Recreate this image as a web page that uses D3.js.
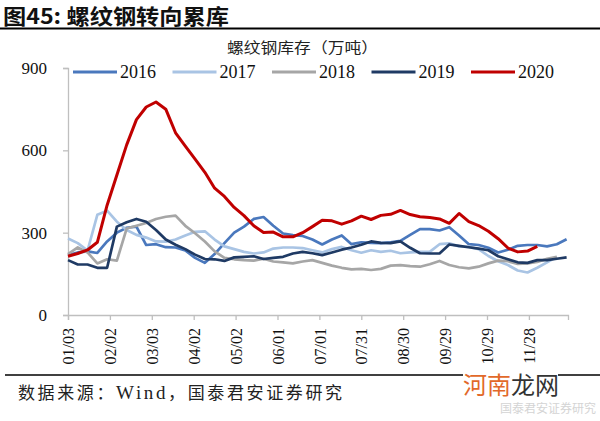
<!DOCTYPE html>
<html>
<head>
<meta charset="utf-8">
<script src="https://cdn.jsdelivr.net/npm/d3@7"></script>
<style>
  body { margin: 0; background: #fff; }
  svg { display: block; }
</style>
</head>
<body>
<div id="chart"></div>
<script>
// weekly inventory, 万吨, one point per week from 01/03
var years = ['2016', '2017', '2018', '2019', '2020'];
var colors = ['#4a78bd', '#a9c4e4', '#a6a6a6', '#1f3a64', '#c00000'];

var s2016 = [218, 228, 232, 226, 268, 300, 318, 322, 255, 258, 247, 246, 235, 208, 190, 222,
  262, 300, 322, 350, 357, 325, 297, 291, 288, 275, 257, 275, 290, 258, 265, 263,
  262, 265, 270, 292, 313, 313, 308, 320, 290, 258, 255, 245, 228, 238, 252, 255,
  255, 250, 258, 276];
var s2017 = [279, 262, 235, 365, 380, 340, 310, 292, 282, 268, 267, 275, 290, 303, 305, 275,
  250, 240, 230, 224, 228, 242, 246, 246, 244, 236, 228, 240, 248, 236, 227, 236,
  230, 234, 225, 228, 230, 230, 258, 261, 250, 248, 240, 215, 196, 182, 162, 155,
  172, 192, 212];
var s2018 = [222, 246, 228, 188, 203, 198, 315, 325, 335, 350, 358, 362, 325, 298, 268, 232,
  208, 203, 200, 198, 205, 195, 192, 188, 195, 200, 190, 180, 172, 166, 168, 164,
  168, 180, 182, 178, 176, 185, 197, 182, 174, 170, 176, 188, 198, 196, 186, 188,
  193, 205, 212];
var s2019 = [200, 184, 184, 172, 172, 322, 338, 350, 340, 310, 275, 256, 240, 220, 204, 203,
  197, 210, 212, 214, 204, 208, 212, 224, 230, 225, 218, 228, 238, 246, 256, 268,
  263, 262, 268, 245, 225, 224, 224, 257, 252, 247, 242, 236, 214, 203, 192, 190,
  200, 200, 205, 210];
var s2020 = [214, 224, 237, 265, 400, 510, 620, 712, 758, 776, 750, 664, 615, 568, 520, 462,
  432, 392, 362, 325, 301, 302, 285, 285, 300, 322, 345, 343, 331, 343, 360, 348,
  363, 367, 381, 366, 358, 355, 350, 334, 370, 340, 326, 305, 278, 244, 230, 233,
  250];
var series = [s2016, s2017, s2018, s2019, s2020];

var yTicks = [0, 300, 600, 900];
var xTickLabels = ['01/03', '02/02', '03/03', '04/02', '05/02', '06/01',
  '07/01', '07/31', '08/30', '09/29', '10/29', '11/28'];

var width = 600;
var height = 421;
var margin = {top: 68, right: 32, bottom: 106, left: 68};

var svg = d3.select('#chart').append('svg')
  .attr('width', width)
  .attr('height', height);

var serif = '"Liberation Serif", "Times New Roman", serif';
var cjk = '"Noto Sans CJK SC", sans-serif';

// header
svg.append('text')
  .attr('x', 3)
  .attr('y', 24)
  .attr('textLength', 226)
  .attr('lengthAdjust', 'spacingAndGlyphs')
  .style('font-family', cjk)
  .style('font-weight', 700)
  .style('font-size', '21px')
  .style('fill', '#111')
  .text('图45: 螺纹钢转向累库');

svg.append('line')
  .attr('x1', 0).attr('x2', width)
  .attr('y1', 28.5).attr('y2', 28.5)
  .style('stroke', '#000')
  .style('stroke-width', 2);

// chart title
svg.append('text')
  .attr('x', 227)
  .attr('y', 53)
  .attr('textLength', 151)
  .attr('lengthAdjust', 'spacingAndGlyphs')
  .style('font-family', cjk)
  .style('font-size', '15px')
  .style('fill', '#222')
  .text('螺纹钢库存（万吨）');

var x = d3.scaleLinear()
  .domain([0, 358])
  .range([margin.left, width - margin.right]);

var y = d3.scaleLinear()
  .domain([0, 900])
  .range([height - margin.bottom, margin.top]);

// y axis
var yAxis = svg.append('g')
  .attr('transform', 'translate(' + margin.left + ',0)')
  .call(d3.axisLeft(y).tickValues(yTicks).tickSize(5).tickPadding(16));
yAxis.selectAll('text')
  .style('font-family', serif)
  .style('font-size', '17px')
  .style('fill', '#111');

// x axis, a tick every 30 days
var xAxis = svg.append('g')
  .attr('transform', 'translate(0,' + y(0) + ')')
  .call(d3.axisBottom(x)
    .tickValues(xTickLabels.map(function (d, i) { return i * 30; }))
    .tickFormat(function (d, i) { return xTickLabels[i]; })
    .tickSize(5));
xAxis.selectAll('text')
  .attr('transform', 'rotate(-90)')
  .attr('x', -13)
  .attr('y', 0)
  .attr('dy', '0.35em')
  .style('text-anchor', 'end')
  .style('font-family', serif)
  .style('font-size', '16px')
  .style('fill', '#111');

svg.selectAll('.domain, .tick line')
  .style('stroke', '#bfbfbf')
  .style('stroke-width', 1.3);

// lines
var line = d3.line()
  .x(function (d, i) { return x(i * 7); })
  .y(function (d) { return y(d); });

svg.append('g')
  .selectAll('path')
  .data(series)
  .enter()
  .append('path')
  .attr('d', line)
  .style('fill', 'none')
  .style('stroke', function (d, i) { return colors[i]; })
  .style('stroke-width', function (d, i) { return i === 4 ? 3 : 2.7; })
  .style('stroke-linejoin', 'round');

// legend
var legend = svg.append('g')
  .selectAll('g')
  .data(years)
  .enter()
  .append('g')
  .attr('transform', function (d, i) { return 'translate(' + (73 + i * 99.5) + ',72)'; });
legend.append('line')
  .attr('x1', 0).attr('x2', 44)
  .style('stroke', function (d, i) { return colors[i]; })
  .style('stroke-width', 3);
legend.append('text')
  .attr('x', 47)
  .attr('dy', '0.35em')
  .style('font-family', serif)
  .style('font-size', '18px')
  .style('fill', '#111')
  .text(function (d) { return d; });

// footer
svg.append('line')
  .attr('x1', 5).attr('x2', width)
  .attr('y1', 375).attr('y2', 375)
  .style('stroke', '#000')
  .style('stroke-width', 1.5);

var foot = svg.append('text')
  .attr('x', 18)
  .attr('y', 399)
  .attr('textLength', 324)
  .attr('lengthAdjust', 'spacing')
  .style('font-family', cjk)
  .style('font-size', '17px')
  .style('fill', '#222');
foot.append('tspan').text('数据来源：');
foot.append('tspan').style('font-family', serif).style('font-size', '19px').text('Wind');
foot.append('tspan').text('，国泰君安证券研究');

// watermark
svg.append('rect')
  .attr('x', 463).attr('y', 366)
  .attr('width', 95).attr('height', 20)
  .style('fill', '#fff');
svg.append('text')
  .attr('x', 500)
  .attr('y', 413)
  .style('font-family', cjk)
  .style('font-size', '12px')
  .style('fill', '#d4d4d4')
  .text('国泰君安证券研究');
var wm = svg.append('text')
  .attr('x', 463)
  .attr('y', 394)
  .style('font-family', cjk)
  .style('font-size', '24px');
wm.append('tspan').style('fill', '#e2692a').text('河南');
wm.append('tspan').style('fill', '#333').text('龙网');
</script>
</body>
</html>
